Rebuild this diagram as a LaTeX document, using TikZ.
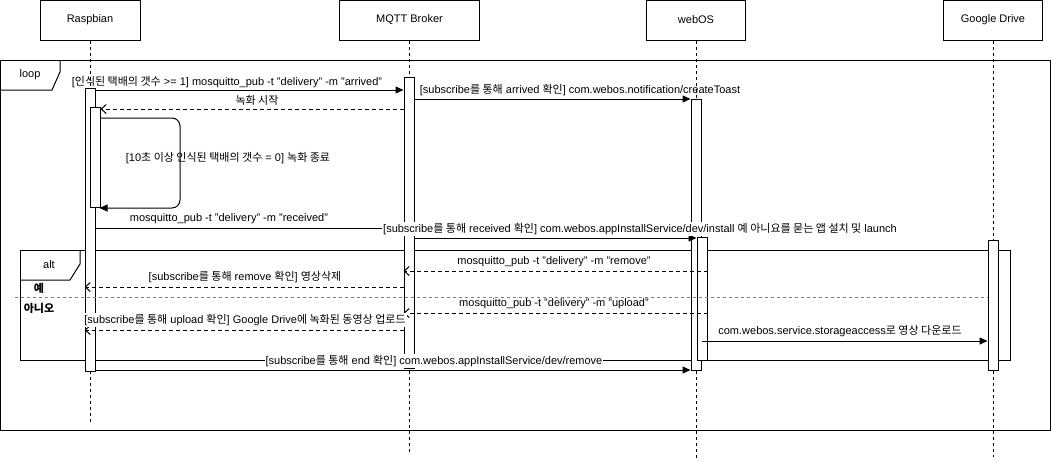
\documentclass[tikz,border=0pt]{standalone}
\usepackage{fontspec}
\setmainfont{Liberation Sans}
\newfontfamily\kofont{Noto Sans CJK KR}
\newcommand{\ko}[1]{{\kofont #1}}
\usetikzlibrary{positioning,arrows.meta}

\begin{document}
\begin{tikzpicture}[x=1pt,y=-1pt,line width=1pt,font=\fontsize{11}{13}\selectfont]
            \tikzstyle{actor} = [rectangle, minimum width=100pt, minimum height=40pt, inner sep=0pt, text centered, draw=black, fill=white]
            \tikzstyle{lifeline} = [dash pattern=on 3pt off 3pt]
            \tikzstyle{bar} = [rectangle, minimum width=10pt, inner sep=0pt, anchor=north, draw=black, fill=white]
            \tikzstyle{call} = [->,>={Triangle[length=8pt,width=7pt]}]
            \tikzstyle{reply} = [->,>={Straight Barb[length=5pt,width=9pt]}, dash pattern=on 4pt off 3pt]
            \tikzstyle{lbl} = [inner sep=1pt]
            \tikzstyle{lblbg} = [inner sep=1pt, fill=white]

            \useasboundingbox (0,0) rectangle (1051,461);

            % Participants
            \node (rasp) [actor] at (90,20) {Raspbian};
            \node (mqtt) [actor, minimum width=140pt] at (409.5,20) {MQTT Broker};
            \node (webos) [actor, minimum width=99pt] at (696,20) {webOS};
            \node (gdrive) [actor, minimum width=99pt] at (993,20) {Google Drive};

            % Lifelines
            \coordinate (raspEnd) at (90,422);
            \coordinate (mqttEnd) at (409.5,452);
            \coordinate (webosEnd) at (696,458);
            \coordinate (gdriveEnd) at (993,457);
            \draw [lifeline] (rasp) -- (raspEnd);
            \draw [lifeline] (mqtt) -- (mqttEnd);
            \draw [lifeline] (webos) -- (webosEnd);
            \draw [lifeline] (gdrive) -- (gdriveEnd);

            % Frames
            \draw (0.5,60) rectangle (1050,430);
            \draw (60,60) -- (60,72) -- (52,90) -- (0.5,90);
            \node (loopTag) [lbl] at (30,75) {loop};
            \draw (20,250) rectangle (1010,360);
            \draw (80,250) -- (80,264) -- (70,280) -- (20,280);
            \node (altTag) [lbl] at (49,265) {alt};
            \node (yesTag) [lbl] at (39,288) {\kofont\bfseries 예};
            \node (noTag) [lbl] at (39,308) {\kofont\bfseries 아니오};

            % Activations
            \node (raspAct) [bar, minimum height=283pt] at (90,88) {};
            \node (raspRec) [bar, minimum height=100pt] at (95,107) {};
            \node (mqttAct) [bar, minimum height=291pt] at (409,77) {};
            \node (webAct) [bar, minimum height=271pt] at (696,99) {};
            \node (webInst) [bar, minimum height=123pt] at (702,237) {};
            \node (gdAct) [bar, minimum height=130pt] at (993,240) {};
            \draw [gray, dash pattern=on 3pt off 3pt] (15,297) -- (gdAct.west |- 0,297);

            % Messages
            \draw [call] (raspAct.east |- 0,90) -- (mqttAct.west |- 0,90);
            \node (arrived) [lbl] at (227,82) {[\ko{인식된 택배의 갯수} >= 1] mosquitto\_pub -t "delivery" -m "arrived"};
            \draw [reply] (mqttAct.west |- 0,109) -- (raspRec.east |- 0,109);
            \node (recStart) [lbl] at (257,100) {\ko{녹화 시작}};
            \draw [call, rounded corners=8pt, shorten >=-1pt] (raspRec.east |- 0,118) -- (180,118) -- (180,208) -- (raspRec.east |- 0,208);
            \node (recStop) [lbl] at (228,158) {[10\ko{초 이상 인식된 택배의 갯수} = 0] \ko{녹화 종료}};
            \draw [call] (mqttAct.east |- 0,99) -- (webAct.west |- 0,99);
            \node (toast) [lbl] at (580,90) {[subscribe\ko{를 통해} arrived \ko{확인}] com.webos.notification/createToast};
            \draw [call] (raspAct.east |- 0,228) -- (mqttAct.west |- 0,228);
            \node (received) [lbl] at (229,219) {mosquitto\_pub -t "delivery" -m "received"};
            \draw [call] (mqttAct.east |- 0,238) -- (webInst.west |- 0,238);
            \node (install) [lblbg] at (640,229) {[subscribe\ko{를 통해} received \ko{확인}] com.webos.appInstallService/dev/install \ko{예 아니요를 묻는 앱 설치 및} launch};
            \draw [reply] (webInst.east |- 0,271) -- (mqttAct.west |- 0,271);
            \node (remove) [lbl] at (554,262) {mosquitto\_pub -t "delivery" -m "remove"};
            \draw [reply] (mqttAct.west |- 0,287) -- (raspAct.west |- 0,287);
            \node (delete) [lbl] at (245,277) {[subscribe\ko{를 통해} remove \ko{확인}] \ko{영상삭제}};
            \draw [reply] (webInst.east |- 0,313) -- (mqttAct.west |- 0,313);
            \node (upload) [lbl] at (554,304) {mosquitto\_pub -t "delivery" -m "upload"};
            \draw [reply] (mqttAct.west |- 0,330) -- (raspAct.west |- 0,330);
            \node (gdUpload) [lblbg] at (245,320) {[subscribe\ko{를 통해} upload \ko{확인}] Google Drive\ko{에 녹화된 동영상 업로드}};
            \draw [call] (webAct.east |- 0,341) -- (gdAct.west |- 0,341);
            \node (download) [lbl] at (840,331) {com.webos.service.storageaccess\ko{로 영상 다운로드}};
            \draw [call] (raspAct.east |- 0,370) -- (webAct.west |- 0,370);
            \node (end) [lblbg] at (434,361) {[subscribe\ko{를 통해} end \ko{확인}] com.webos.appInstallService/dev/remove};
        \end{tikzpicture}
\end{document}
